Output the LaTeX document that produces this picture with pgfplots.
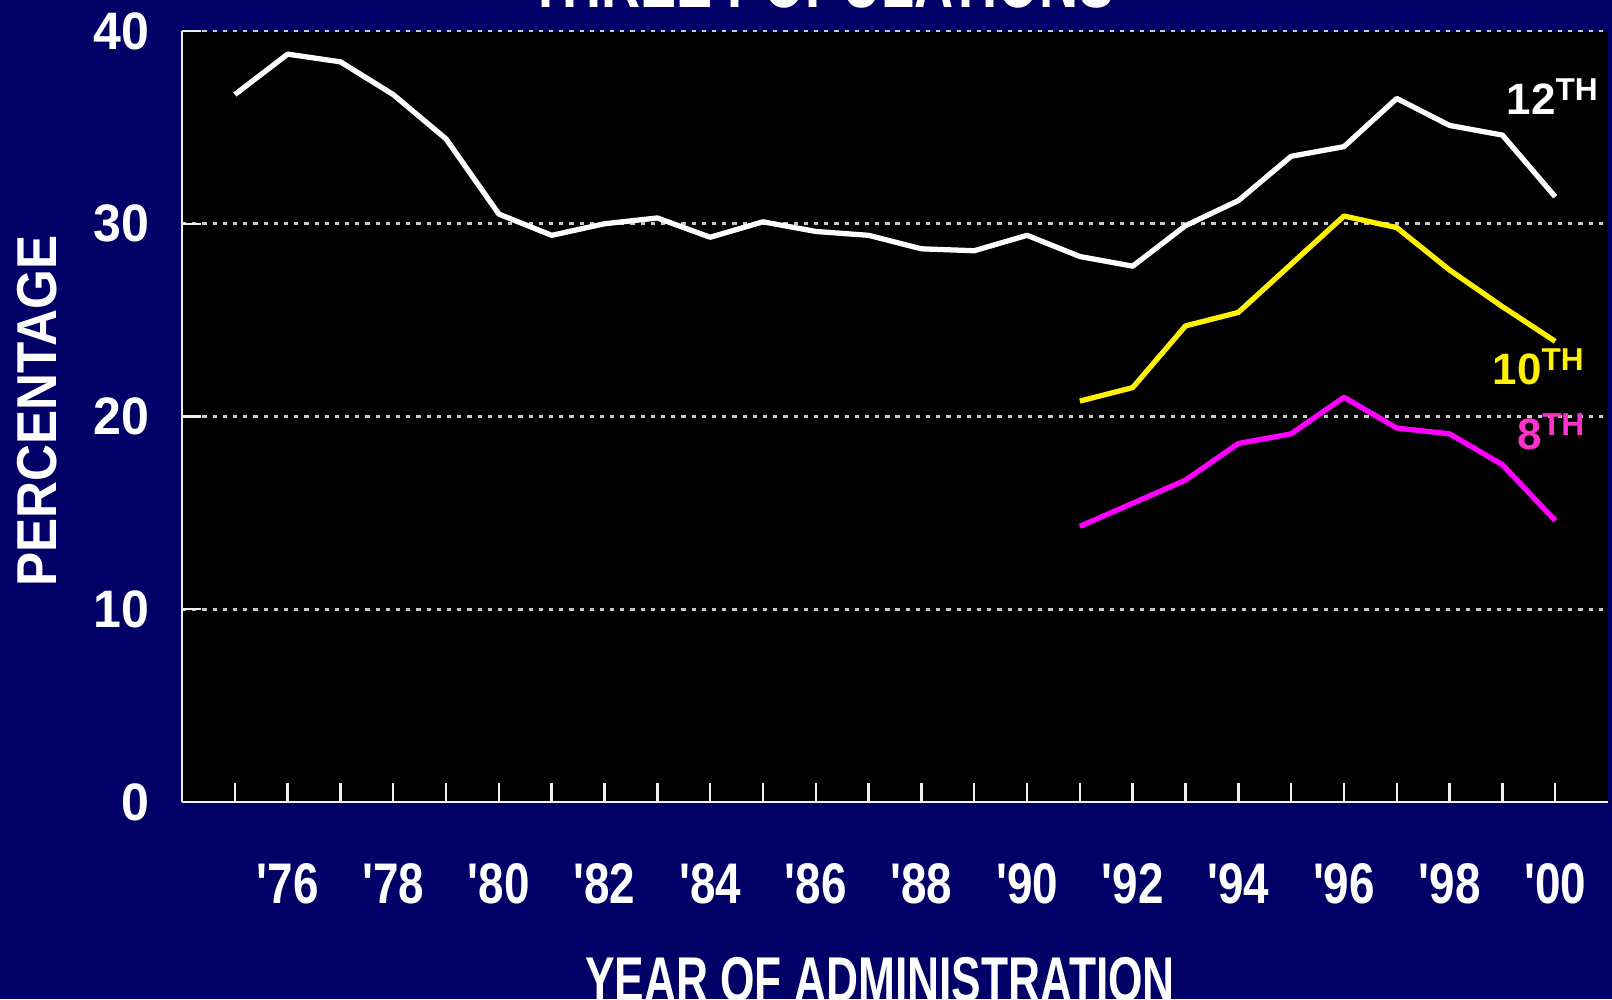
\documentclass[border=0pt]{standalone}
\usepackage{fontspec}
\setmainfont{Liberation Sans}
\usepackage{graphicx}
\usepackage{pgfplots}
\pgfplotsset{compat=1.18}
\definecolor{navy}{RGB}{0,0,102}
\definecolor{mag}{RGB}{255,0,255}
\definecolor{pinklab}{RGB}{255,51,204}
\definecolor{gridgray}{RGB}{200,200,200}
\newcommand{\xl}[1]{\scalebox{0.8}[1]{\textquotesingle#1}}
\newcommand{\yl}[1]{\scalebox{0.95}[1]{#1}}
\begin{document}
\begin{tikzpicture}[x=1cm,y=1cm]
\fill[navy] (0,0) rectangle (16.12,9.99);
\begin{axis}[
 at={(1.82cm,1.97cm)}, anchor=south west,
 scale only axis, width=14.26cm, height=7.71cm,
 xmin=1974, xmax=2001, ymin=0, ymax=40,
 axis background/.style={fill=black},
 axis x line*=bottom, axis y line*=left,
 axis line style={draw=white!88!gray, line width=0.8pt, -},
 xtick={1976,1978,...,2000},
 minor xtick={1975,1977,...,1999},
 xticklabels={\xl{76},\xl{78},\xl{80},\xl{82},\xl{84},\xl{86},\xl{88},\xl{90},\xl{92},\xl{94},\xl{96},\xl{98},\xl{00}},
 ytick={0,10,20,30,40},
 yticklabels={\yl{0},\yl{10},\yl{20},\yl{30},\yl{40}},
 tick align=inside,
 major tick length=0.19cm, minor tick length=0.19cm,
 tick style={white!88!gray, line width=0.7pt},
 ymajorgrids,
 grid style={gridgray, line width=0.8pt, dash pattern=on 1.2pt off 1.7pt},
 xticklabel style={anchor=north, yshift=-0.49cm, font=\bfseries\fontsize{16.3}{16.3}\selectfont, text=white},
 yticklabel style={anchor=east, xshift=-0.2cm, font=\bfseries\fontsize{15}{15}\selectfont, text=white},
 line join=round,
]
\addplot[white, line width=1.5pt, mark=none] coordinates {
(1975,36.7) (1976,38.8) (1977,38.4) (1978,36.7) (1979,34.4) (1980,30.5)
(1981,29.4) (1982,30.0) (1983,30.3) (1984,29.3) (1985,30.1) (1986,29.6)
(1987,29.4) (1988,28.7) (1989,28.6) (1990,29.4) (1991,28.3) (1992,27.8)
(1993,29.9) (1994,31.2) (1995,33.5) (1996,34.0) (1997,36.5) (1998,35.1)
(1999,34.6) (2000,31.4)};
\addplot[yellow, line width=1.5pt, mark=none] coordinates {
(1991,20.8) (1992,21.5) (1993,24.7) (1994,25.4) (1995,27.9) (1996,30.4)
(1997,29.8) (1998,27.6) (1999,25.7) (2000,23.9)};
\addplot[mag, line width=1.5pt, mark=none] coordinates {
(1991,14.3) (1992,15.5) (1993,16.7) (1994,18.6) (1995,19.1) (1996,21.0)
(1997,19.4) (1998,19.1) (1999,17.5) (2000,14.6)};
\end{axis}
% series labels
\node[anchor=base west, inner sep=0, text=white, font=\bfseries\fontsize{12.5}{12.5}\selectfont] at (15.06,8.84) {12\raisebox{4pt}{\fontsize{9}{9}\selectfont TH}};
\node[anchor=base west, inner sep=0, text=yellow, font=\bfseries\fontsize{12.5}{12.5}\selectfont] at (14.92,6.14) {10\raisebox{4pt}{\fontsize{9}{9}\selectfont TH}};
\node[anchor=base west, inner sep=0, text=pinklab, font=\bfseries\fontsize{12.5}{12.5}\selectfont] at (15.17,5.49) {8\raisebox{4pt}{\fontsize{9}{9}\selectfont TH}};
% axis titles
\node[anchor=center, rotate=90, inner sep=0, text=white, font=\bfseries\fontsize{16}{16}\selectfont] at (0.37,5.88) {\scalebox{0.91}[1]{PERCENTAGE}};
\node[anchor=base, inner sep=0, text=white, font=\bfseries\fontsize{18}{18}\selectfont] at (8.80,-0.02) {\scalebox{0.7}[1]{YEAR OF ADMINISTRATION}};
\node[anchor=base, inner sep=0, text=white, font=\bfseries\fontsize{22}{22}\selectfont] at (8.22,9.91) {\scalebox{0.7}[1]{THREE POPULATIONS}};
\pgfresetboundingbox
\path[use as bounding box] (0,0) rectangle (16.12,9.99);
\end{tikzpicture}
\end{document}
